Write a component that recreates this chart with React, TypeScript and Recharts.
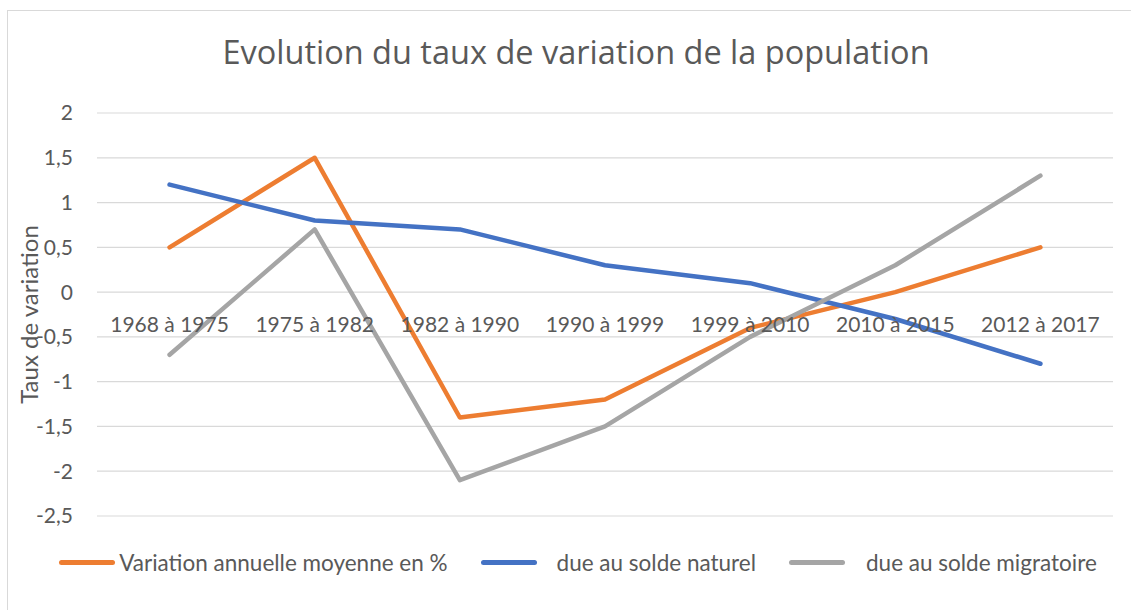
import { CartesianGrid, Legend, Line, LineChart, XAxis, YAxis } from 'recharts';

const periods = [
    '1968 à 1975',
    '1975 à 1982',
    '1982 à 1990',
    '1990 à 1999',
    '1999 à 2010',
    '2010 à 2015',
    '2012 à 2017',
];
const variationAnnuelle = [0.5, 1.5, -1.4, -1.2, -0.4, 0, 0.5];
const soldeNaturel = [1.2, 0.8, 0.7, 0.3, 0.1, -0.3, -0.8];
const soldeMigratoire = [-0.7, 0.7, -2.1, -1.5, -0.5, 0.3, 1.3];
const yTicks = [-2.5, -2, -1.5, -1, -0.5, 0, 0.5, 1, 1.5, 2];
const seriesOrder = ['variation', 'naturel', 'migratoire'];

const data = periods.map((periode, i) => ({
    periode,
    variation: variationAnnuelle[i],
    naturel: soldeNaturel[i],
    migratoire: soldeMigratoire[i],
}));

const FONT = 'Lato, "Open Sans", sans-serif';
const TEXT = '#595959';

const WIDTH = 1136;
const HEIGHT = 600;
const MARGIN = { top: 102, right: 31, bottom: 65, left: 0 };
const X_AXIS_H = 30;
const PLOT_H = HEIGHT - MARGIN.top - MARGIN.bottom - X_AXIS_H;
const PLOT_W = WIDTH - MARGIN.left - MARGIN.right - 89;
const HALF_BAND = PLOT_W / periods.length / 2;
const Y_MIN = -2.5;
const Y_MAX = 2;

// gap between legend swatch and text, as Excel spaced them
const legendGap: Record<string, number> = { variation: 4, naturel: 20, migratoire: 21 };

// category labels sit just under the 0 line, like the Excel original
const PeriodTick = (props: any) => {
    const { x, y, payload } = props;
    const lift = PLOT_H * (0 - Y_MIN) / (Y_MAX - Y_MIN);
    return (
        <text
            x={x}
            y={y - lift + 31}
            textAnchor="middle"
            dominantBaseline="central"
            fill={TEXT}
            fontSize={21}
            fontFamily={FONT}
        >
            {payload.value}
        </text>
    );
};

const AxisTitle = (props: any) => {
    const { viewBox } = props;
    const cx = viewBox.x + 20;
    const cy = viewBox.y + viewBox.height / 2;
    return (
        <text
            x={cx}
            y={cy}
            textAnchor="middle"
            dominantBaseline="central"
            transform={`rotate(-90, ${cx}, ${cy})`}
            fill={TEXT}
            fontSize={24}
            fontFamily={FONT}
        >
            Taux de variation
        </text>
    );
};

const LegendContent = (props: any) => {
    const payload = [...(props.payload || [])].sort(
        (a: any, b: any) => seriesOrder.indexOf(a.dataKey) - seriesOrder.indexOf(b.dataKey),
    );
    return (
        <div
            style={{
                display: 'flex',
                justifyContent: 'center',
                alignItems: 'center',
                gap: 33,
                paddingLeft: 4,
                fontFamily: FONT,
                fontSize: 22.5,
                color: TEXT,
            }}
        >
            {payload.map((entry: any) => (
                <div key={entry.value} style={{ display: 'flex', alignItems: 'center' }}>
                    <span
                        style={{
                            display: 'inline-block',
                            width: 56,
                            height: 5,
                            borderRadius: 3,
                            background: entry.color,
                            marginRight: legendGap[entry.dataKey] ?? 10,
                        }}
                    />
                    <span>{entry.value}</span>
                </div>
            ))}
        </div>
    );
};

export default function App() {
    return (
        <div style={{ position: 'relative', width: 1131, height: 610, overflow: 'hidden', background: '#fff' }}>
            <style>{'body{margin:0;overflow:hidden}'}</style>
            <div
                style={{
                    position: 'absolute',
                    left: 7,
                    top: 10,
                    width: WIDTH,
                    height: HEIGHT,
                    border: '1px solid #d9d9d9',
                }}
            >
                <div
                    style={{
                        position: 'absolute',
                        top: 26,
                        left: 0,
                        width: WIDTH,
                        textAlign: 'center',
                        fontFamily: '"Open Sans", sans-serif',
                        fontSize: 32.5,
                        lineHeight: '30px',
                        color: TEXT,
                    }}
                >
                    Evolution du taux de variation de la population
                </div>
                <LineChart width={WIDTH} height={HEIGHT} data={data} margin={MARGIN}>
                    <CartesianGrid vertical={false} stroke="#d9d9d9" strokeWidth={1.2}/>
                    <XAxis
                        dataKey="periode"
                        height={X_AXIS_H}
                        padding={{ left: HALF_BAND, right: HALF_BAND }}
                        axisLine={false}
                        tickLine={false}
                        tickSize={0}
                        tickMargin={0}
                        interval={0}
                        tick={<PeriodTick/>}
                    />
                    <YAxis
                        width={89}
                        domain={[Y_MIN, Y_MAX]}
                        ticks={yTicks}
                        interval={0}
                        axisLine={false}
                        tickLine={false}
                        tickSize={0}
                        tickMargin={24}
                        tickFormatter={(v: number) => String(v).replace('.', ',')}
                        tick={{ fill: TEXT, fontSize: 21, fontFamily: FONT }}
                        label={<AxisTitle/>}
                    />
                    <Legend
                        verticalAlign="middle"
                        layout="horizontal"
                        wrapperStyle={{ top: 538, left: 0, width: WIDTH }}
                        content={<LegendContent/>}
                    />
                    <Line
                        type="linear"
                        dataKey="variation"
                        name="Variation annuelle moyenne en %"
                        stroke="#ED7D31"
                        strokeWidth={4.5}
                        strokeLinecap="round"
                        strokeLinejoin="round"
                        dot={false}
                        isAnimationActive={false}
                    />
                    <Line
                        type="linear"
                        dataKey="naturel"
                        name="due au solde naturel"
                        stroke="#4472C4"
                        strokeWidth={4.5}
                        strokeLinecap="round"
                        strokeLinejoin="round"
                        dot={false}
                        isAnimationActive={false}
                    />
                    <Line
                        type="linear"
                        dataKey="migratoire"
                        name="due au solde migratoire"
                        stroke="#A5A5A5"
                        strokeWidth={4.5}
                        strokeLinecap="round"
                        strokeLinejoin="round"
                        dot={false}
                        isAnimationActive={false}
                    />
                </LineChart>
            </div>
        </div>
    );
}
